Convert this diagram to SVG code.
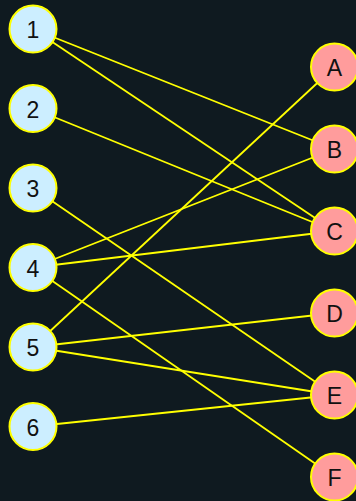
<svg xmlns="http://www.w3.org/2000/svg" width="356" height="501" viewBox="0 0 356 501">
<style>
.bg{fill:#0f1a20}
.e line{stroke:#ffff00;stroke-width:1.8}
.n circle{stroke:#ffff00;stroke-width:2}
.l circle{fill:#cceeff}
.r circle{fill:#ff9c9c}
.n text{font-family:"Liberation Sans",Arial,sans-serif;font-size:23px;fill:#111;text-anchor:middle;dominant-baseline:central}
</style>
<rect class="bg" x="0" y="0" width="356" height="501"/>
<g id="edges" class="e">
<line x1="33" y1="29" x2="334.5" y2="149"/>
<line x1="33" y1="29" x2="334.5" y2="231"/>
<line x1="33" y1="108.5" x2="334.5" y2="231"/>
<line x1="33" y1="188" x2="334.5" y2="395"/>
<line x1="33" y1="267.5" x2="334.5" y2="149"/>
<line x1="33" y1="267.5" x2="334.5" y2="231"/>
<line x1="33" y1="267.5" x2="334.5" y2="477"/>
<line x1="33" y1="347" x2="334.5" y2="67"/>
<line x1="33" y1="347" x2="334.5" y2="313"/>
<line x1="33" y1="347" x2="334.5" y2="395"/>
<line x1="33" y1="426.5" x2="334.5" y2="395"/>
</g>
<g id="n1" class="n l"><circle cx="33" cy="29" r="23.5"/><text x="33" y="30">1</text></g>
<g id="n2" class="n l"><circle cx="33" cy="108.5" r="23.5"/><text x="33" y="109.5">2</text></g>
<g id="n3" class="n l"><circle cx="33" cy="188" r="23.5"/><text x="33" y="189">3</text></g>
<g id="n4" class="n l"><circle cx="33" cy="267.5" r="23.5"/><text x="33" y="268.5">4</text></g>
<g id="n5" class="n l"><circle cx="33" cy="347" r="23.5"/><text x="33" y="348">5</text></g>
<g id="n6" class="n l"><circle cx="33" cy="426.5" r="23.5"/><text x="33" y="427.5">6</text></g>
<g id="nA" class="n r"><circle cx="334.5" cy="67" r="23.5"/><text x="334.5" y="68">A</text></g>
<g id="nB" class="n r"><circle cx="334.5" cy="149" r="23.5"/><text x="334.5" y="150">B</text></g>
<g id="nC" class="n r"><circle cx="334.5" cy="231" r="23.5"/><text x="334.5" y="232">C</text></g>
<g id="nD" class="n r"><circle cx="334.5" cy="313" r="23.5"/><text x="334.5" y="314">D</text></g>
<g id="nE" class="n r"><circle cx="334.5" cy="395" r="23.5"/><text x="334.5" y="396">E</text></g>
<g id="nF" class="n r"><circle cx="334.5" cy="477" r="23.5"/><text x="334.5" y="478">F</text></g>
</svg>
